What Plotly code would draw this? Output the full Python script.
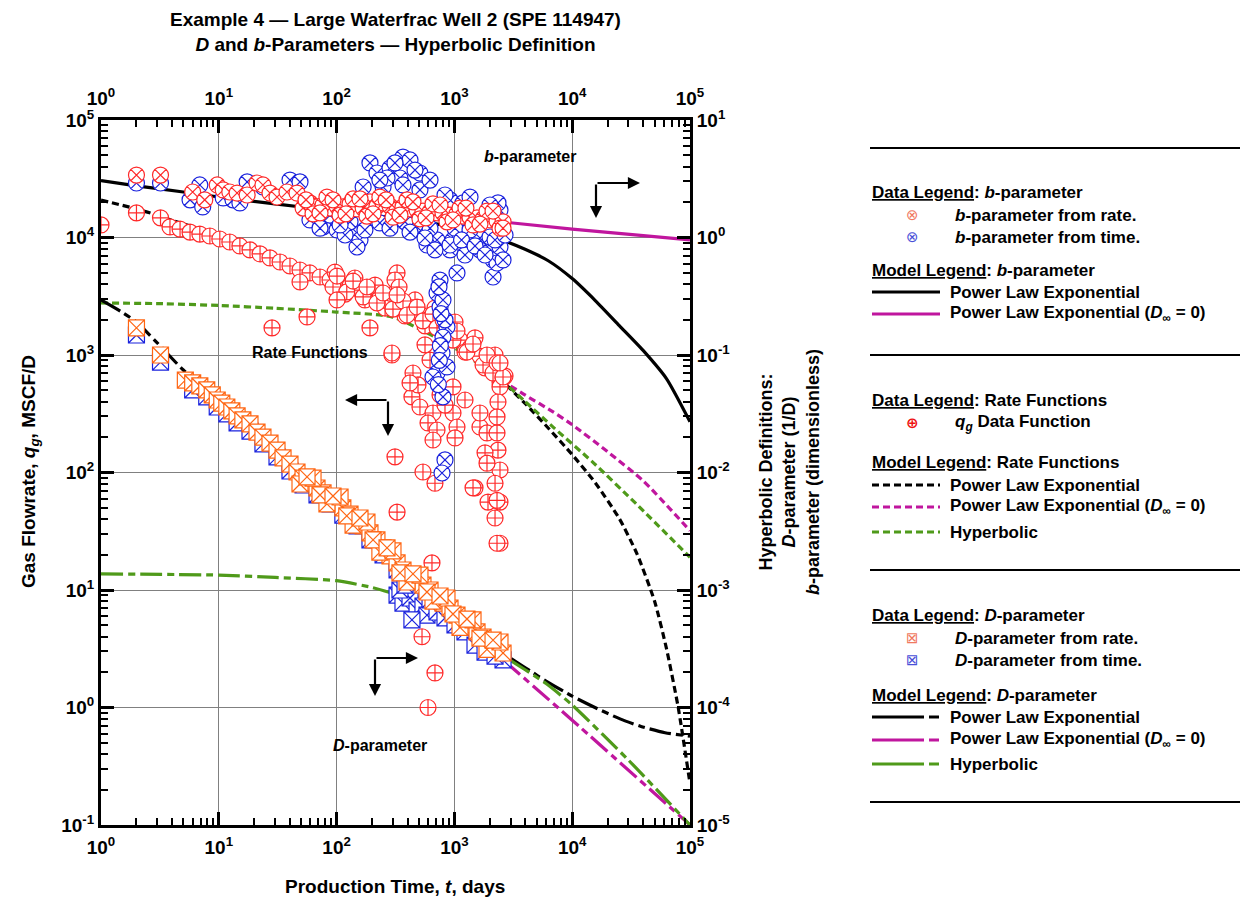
import plotly.graph_objects as go

FONT = "Liberation Sans, Arial, Helvetica, sans-serif"

# ---------------- data: rate functions (left axis, MSCF/D) ----------------
qg_t = [1.0, 2.0, 3.2, 3.85, 4.69, 5.7, 6.9, 8.4, 10.2, 12.4, 15.1, 18.4, 22.4, 27.2, 33.1, 40.2, 48.9, 59.4, 72.3, 87.9,
        107, 130, 158, 192, 233, 284, 345, 420, 510, 621, 755, 918, 1116, 1357, 1648, 2005, 2438, 2690,
        96.9, 143, 212, 313, 463, 684, 1012, 1496, 2213,
        118, 174, 258, 381, 563, 832, 1230, 1820, 2438,
        93.2, 100.8, 122, 138, 168, 181, 220, 248, 301, 366, 396, 482, 541, 658, 712, 800, 973, 1052, 1279, 1439, 1750, 1891, 2128, 2300, 2587,
        326, 313, 339, 326,
        28.3, 56.1, 48.9, 100.8, 192, 295,
        295, 445, 436, 510, 658, 597, 712, 658, 973, 1230, 973, 1052, 1012, 313, 541, 684, 326, 645,
        1648, 1891, 2300, 2344, 1820, 2438, 1891, 2213, 1496, 1928, 2438, 2213, 2438, 2438, 2344, 2300, 1648, 2587, 2438,
        531, 684, 597, 1439, 2300, 2300, 563, 621, 491, 755, 832, 420]
qg_q = [12800, 16200, 14700, 12300, 11800, 11100, 10700, 10300, 9710, 9160, 8470, 7840, 7250, 6700, 6190, 5720, 5290, 4990, 4610, 4350,
        4020, 3870, 3570, 3300, 3060, 2830, 2610, 2420, 2230, 2060, 1840, 1600, 1340, 1150, 980, 838, 716, 662,
        5080, 4520, 3940, 3370, 2940, 2510, 1910, 1400, 1000,
        3300, 2940, 2510, 2150, 1770, 1480, 1060, 775, 589,
        3790, 4700, 3440, 4260, 3120, 3790, 2770, 3370, 2460, 2880, 2190, 2560, 1950, 2230, 1700, 1990, 1340, 1600, 1060, 1240, 822, 1000, 703, 855, 637,
        4990, 4350, 3790, 3240,
        1700, 2110, 4180, 2940, 1700, 1000,
        1040, 703, 440, 361, 321, 264, 230, 189, 535, 414, 321, 244, 197, 136, 101, 81, 46, 17,
        244, 217, 217, 155, 147, 105, 120, 81, 74, 56, 56, 41, 25, 535, 398, 297, 321, 650, 855,
        4.0, 1.97, 1.0, 74, 58, 25, 1220, 906, 556, 457, 375, 578]

# rate models
qple_t = [1, 2, 3, 4, 10, 30, 100, 300, 1000, 2500, 4000, 6310, 10000, 15850, 25120, 35480, 50120, 63100, 79430, 100000]
qple_q = [20800, 17500, 15500, 14000, 10500, 6800, 4200, 2800, 1400, 612, 385, 237, 142, 80.7, 40.5, 20.3, 7.98, 3.18, 1.0, 0.225]
qple0_t = [2500, 4000, 6500, 10000, 20000, 40000, 100000]
qple0_q = [612, 455, 340, 255, 150, 85, 32]
qhyp_t = [1, 3, 10, 30, 100, 300, 1000, 2500, 4000, 7000, 15000, 35000, 100000]
qhyp_q = [2770, 2740, 2640, 2500, 2320, 2100, 1150, 612, 400, 240, 122, 54, 19]

# ---------------- data: b-parameter (right axis) ----------------
br_t = [2.0, 3.2, 6.0, 7.6, 9.7, 10.9, 12.4, 14.3, 17.4, 21.1, 23.7, 27.2, 31.2, 37.9, 46.1, 51.9, 59.4, 68.2, 76.7, 87.9,
        100.8, 113, 130, 149, 168, 192, 220, 248, 284, 326, 366, 420, 482, 541, 621, 712, 800, 918, 1052, 1183,
        1357, 1556, 1750, 2005, 2300, 2587,
        63.1, 82.8, 107, 138, 181, 233, 301, 396, 510, 658, 865, 1116, 1439, 1891, 2438,
        55.0, 72.3, 93.2, 120, 158, 204, 263, 345, 445, 574, 755, 973, 1253, 1648, 2128, 2587]
br_v = [3.40, 3.40, 2.44, 2.09, 2.80, 2.54, 2.44, 2.39, 2.30, 2.91, 2.80, 2.39, 2.21, 2.44, 2.39, 1.78, 1.97, 1.82, 1.89, 1.78,
        1.85, 1.82, 1.93, 1.75, 1.78, 2.01, 1.85, 1.97, 1.85, 1.71, 1.82, 1.75, 1.71, 1.68, 1.65, 1.62, 1.62, 1.55, 1.59, 1.52,
        1.49, 1.47, 1.44, 1.41, 1.38, 1.36,
        1.59, 2.21, 1.55, 2.13, 1.52, 2.21, 1.49, 2.09, 1.44, 1.93, 1.36, 1.78, 1.28, 1.68, 1.20,
        2.09, 1.62, 2.09, 1.59, 2.13, 1.59, 2.09, 1.55, 2.01, 1.47, 1.89, 1.41, 1.78, 1.30, 1.68, 1.20]
bt_t = [2.0, 3.2, 5.7, 6.9, 7.3, 10.9, 13.2, 15.1, 17.4, 23.7, 40.2, 48.9, 59.4, 76.7, 100.8, 149, 158, 149, 233, 345,
        192, 220, 284, 366, 345, 248, 168, 268, 420, 510, 366, 510, 918, 1183, 2300, 2438, 541, 712, 973, 1357,
        1891, 2128, 2128, 1052, 755, 712, 755, 865, 800, 832, 800, 785, 712, 800, 658, 865, 832, 785, 2344, 2300,
        2438, 2300, 2587, 621, 463, 381, 1116, 1648, 87.9, 130, 118, 585, 918, 1230, 1648, 2005, 1012, 1357,
        72.3, 107, 174, 284, 420, 563, 684, 918, 1150, 1496, 1820, 2213, 2690,
        313, 463, 233, 621, 832, 1357, 2005,
        740, 770, 760, 745, 730]
bt_v = [2.91, 2.91, 2.09, 2.80, 1.82, 2.17, 2.09, 1.97, 2.97, 2.69, 3.08, 2.97, 1.41, 1.23, 1.16, 1.09, 0.953, 0.830, 1.33, 1.49,
        4.31, 3.54, 3.90, 4.84, 3.21, 2.69, 2.69, 3.21, 4.57, 3.54, 2.80, 2.54, 2.09, 1.97, 1.89, 1.71, 1.16, 0.953, 0.953, 0.898,
        0.830, 0.644, 0.461, 0.499, 0.434, 0.337, 0.256, 0.173, 0.294, 0.199, 0.142, 0.104, 0.0703, 0.0440, 0.0650, 0.0791, 0.0128, 0.0099, 1.97, 1.41,
        0.830, 0.607, 0.644, 1.20, 1.28, 1.36, 1.05, 0.99, 1.55, 1.36, 1.05, 0.863, 0.784, 0.710, 0.784, 1.01, 1.20, 1.16,
        1.20, 1.28, 1.16, 1.20, 1.11, 0.99, 0.784, 0.863, 0.953, 0.848, 0.710, 0.953, 1.05,
        4.31, 3.75, 3.08, 3.08, 2.30, 2.21, 1.89,
        0.38, 0.225, 0.12, 0.09, 0.056]
bple_t = [1, 2, 5, 10, 30, 100, 300, 1000, 2512, 3981, 6310, 10000, 15850, 25120, 39810, 63100, 100000]
bple_v = [3.05, 2.75, 2.44, 2.21, 1.93, 1.68, 1.47, 1.23, 0.955, 0.794, 0.631, 0.447, 0.288, 0.178, 0.110, 0.063, 0.027]
bple0_t = [2500, 10000, 100000]
bple0_v = [1.36, 1.18, 0.955]

# ---------------- data: D-parameter (right axis, 1/D) ----------------
dr_t = [2.0, 3.2, 5.2, 6.0, 6.9, 7.9, 8.8, 9.7, 10.6, 11.7, 12.9, 14.3, 16.0, 18.4, 21.1, 23.7, 27.2, 31.2, 35.1, 40.2,
        46.1, 51.9, 59.4, 68.2, 76.7, 87.9, 100.8, 113, 130, 149, 168, 192, 220, 248, 284, 326, 366, 420, 482, 541,
        621, 712, 800, 918, 1052, 1183, 1357, 1556, 1750, 2005, 2300, 2587,
        48.9, 63.1, 82.8, 107, 138, 181, 233, 301, 396, 510, 658, 865, 1116, 1439, 1891, 2438,
        56.1, 72.3, 93.2, 122, 158, 204, 268, 345, 445, 585, 755, 973, 1279, 1648, 2128]
dr_v = [0.170, 0.100, 0.0612, 0.0578, 0.0545, 0.0504, 0.0457, 0.0414, 0.0390, 0.0361, 0.0334, 0.0303, 0.0280, 0.0259, 0.0221, 0.0200, 0.0178, 0.0155, 0.0133, 0.0118,
        0.0101, 0.00897, 0.00814, 0.00738, 0.00670, 0.00619, 0.00561, 0.00499, 0.00443, 0.00402, 0.00351, 0.00306, 0.00267, 0.00228, 0.00195, 0.00170, 0.00148, 0.00132, 0.00122, 0.00110,
        0.00100, 0.000871, 0.000774, 0.000703, 0.000612, 0.000556, 0.000504, 0.000440, 0.000398, 0.000361, 0.000321, 0.000291,
        0.00798, 0.00897, 0.00540, 0.00619, 0.00357, 0.00379, 0.00210, 0.00215, 0.00117, 0.00134, 0.000805, 0.000855, 0.000480, 0.000556, 0.000312, 0.000361,
        0.00917, 0.00644, 0.00631, 0.00427, 0.00410, 0.00267, 0.00228, 0.00140, 0.00137, 0.000962, 0.000889, 0.000625, 0.000566, 0.000390, 0.000375]
dt_t = [2.0, 3.2, 6.0, 7.9, 9.7, 11.7, 14.3, 18.4, 23.7, 31.2, 40.2, 51.9, 68.2, 87.9, 113, 149, 192, 248, 326, 420,
        541, 712, 918, 1183, 1556, 2005, 2587,
        326, 366, 420, 482, 541, 585, 345, 436, 712, 832, 1012, 1230, 1496, 1820, 2213, 381, 621]
dt_v = [0.148, 0.0871, 0.0504, 0.0440, 0.0361, 0.0315, 0.0264, 0.0225, 0.0175, 0.0136, 0.0103, 0.00783, 0.00644, 0.00540, 0.00434, 0.00351, 0.00267, 0.00199, 0.00148, 0.00115,
        0.000962, 0.000760, 0.000612, 0.000480, 0.000383, 0.000312, 0.000254,
        0.000906, 0.000774, 0.000855, 0.000676, 0.000731, 0.000612, 0.00100, 0.000556, 0.000650, 0.000578, 0.000504, 0.000440, 0.000340, 0.000296, 0.000274, 0.00110, 0.000822]
dple_t = [1, 1.5, 2, 3, 5, 10, 30, 100, 300, 1000, 2600, 4400, 6000, 10000, 15600, 25500, 38400, 61400, 100000]
dple_v = [0.294, 0.232, 0.191, 0.127, 0.0745, 0.0414, 0.016, 0.0056, 0.0018, 0.00064, 0.00029, 0.000205, 0.000168, 0.000125, 0.000100, 0.0000800, 0.0000690, 0.0000610, 0.0000570]
dple0_t = [2600, 10000, 100000]
dple0_v = [0.000254, 0.0000780, 0.0000100]
dhyp_t = [1, 10, 30, 100, 200, 300, 1000, 2600, 6000, 10000, 30000, 100000]
dhyp_v = [0.00137, 0.00134, 0.00128, 0.00120, 0.00105, 0.00093, 0.00050, 0.000275, 0.000160, 0.000105, 0.0000357, 0.0000100]

# axis labels
x_tickvals = [1, 10, 100, 1000, 10000, 100000]
x_ticktext = ["10<sup>0</sup>", "10<sup>1</sup>", "10<sup>2</sup>", "10<sup>3</sup>", "10<sup>4</sup>", "10<sup>5</sup>"]
y_tickvals = [0.1, 1, 10, 100, 1000, 10000, 100000]
y_ticktext = ["10<sup>-1</sup>", "10<sup>0</sup>", "10<sup>1</sup>", "10<sup>2</sup>", "10<sup>3</sup>", "10<sup>4</sup>", "10<sup>5</sup>"]
y2_tickvals = [1e-5, 1e-4, 1e-3, 1e-2, 1e-1, 1, 10]
y2_ticktext = ["10<sup>-5</sup>", "10<sup>-4</sup>", "10<sup>-3</sup>", "10<sup>-2</sup>", "10<sup>-1</sup>", "10<sup>0</sup>", "10<sup>1</sup>"]

# ---------------- styling ----------------
RED = "#ff2a2a"
ORANGE = "#ff6512"
BLUE = "#1a22dd"
MAG = "#c0169e"
GREEN = "#4f9a1a"
DASH = "7px,4px"
DASHDOT = "22px,5px,7px,5px"

# reference pixel geometry of the plotting area (page has an 8px body margin)
PL, PR, PT, PB = 101, 690, 120, 825
OFF = 8


def XP(x):
    return (x - PL) / (PR - PL)


def YP(y):
    return (PB - y) / (PB - PT)


fig = go.Figure()


def add_line(x, y, color, dash, yaxis="y", width=3.2):
    fig.add_trace(go.Scatter(x=x, y=y, mode="lines", yaxis=yaxis, xaxis="x",
                             line=dict(color=color, width=width, dash=dash, shape="spline", smoothing=0.6),
                             hoverinfo="skip", showlegend=False))


def add_markers(x, y, symbol, color, yaxis="y", size=16, lw=1.2):
    fig.add_trace(go.Scatter(x=x, y=y, mode="markers", yaxis=yaxis, xaxis="x",
                             marker=dict(symbol=symbol, size=size, color="white",
                                         line=dict(color=color, width=lw)),
                             hoverinfo="x+y", showlegend=False))


# left-axis (rate) traces
add_line(qple_t, qple_q, "black", DASH)
add_line(qple0_t, qple0_q, MAG, DASH)
add_line(qhyp_t, qhyp_q, GREEN, DASH)
add_markers(qg_t, qg_q, "circle-cross", RED)
# invisible anchor so the top axis is drawn
fig.add_trace(go.Scatter(x=qg_t[:1], y=qg_q[:1], xaxis="x2", yaxis="y", mode="markers",
                         marker=dict(opacity=0), hoverinfo="skip", showlegend=False))

# right-axis traces: D-parameter
add_line(dple_t, dple_v, "black", DASHDOT, yaxis="y2")
add_line(dple0_t, dple0_v, MAG, DASHDOT, yaxis="y2")
add_line(dhyp_t, dhyp_v, GREEN, DASHDOT, yaxis="y2")
add_markers(dt_t, dt_v, "square-x", BLUE, yaxis="y2", size=16)
add_markers(dr_t, dr_v, "square-x", ORANGE, yaxis="y2", size=16)
# b-parameter
add_line(bple_t, bple_v, "black", "solid", yaxis="y2")
add_line(bple0_t, bple0_v, MAG, "solid", yaxis="y2")
add_markers(bt_t, bt_v, "circle-x", BLUE, yaxis="y2")
add_markers(br_t, br_v, "circle-x", RED, yaxis="y2")

minor_x = [m * 10 ** e for e in range(0, 5) for m in range(2, 10)]
minor_y = [m * 10.0 ** e for e in range(-1, 5) for m in range(2, 10)]
minor_y2 = [m * 10.0 ** e for e in range(-5, 1) for m in range(2, 10)]

tickfont = dict(family=FONT, size=19, color="black", weight="bold")
common = dict(type="log", showline=True, linewidth=3, linecolor="black", ticks="inside",
              ticklen=13, tickwidth=2.5, tickcolor="black", tickfont=tickfont, zeroline=False)
minor_style = dict(ticks="inside", ticklen=7, tickwidth=2, tickcolor="black", showgrid=False)

fig.update_layout(
    width=1249, height=905,
    margin=dict(l=PL - OFF, r=1249 - (PR - PL) - (PL - OFF), t=PT - OFF, b=905 - (PB - PT) - (PT - OFF)),
    paper_bgcolor="white", plot_bgcolor="white",
    showlegend=False,
    xaxis=dict(range=[0, 5], tickmode="array", tickvals=x_tickvals, ticktext=x_ticktext,
               showgrid=True, gridcolor="#808080", gridwidth=1, ticklabelstandoff=3,
               minor=dict(tickmode="array", tickvals=minor_x, **minor_style),
               **common),
    xaxis2=dict(range=[0, 5], overlaying="x", side="top", anchor="y", tickmode="array", tickvals=x_tickvals,
                ticktext=x_ticktext, showgrid=False, ticklabelstandoff=4,
                minor=dict(tickmode="array", tickvals=minor_x, **minor_style),
                **common),
    yaxis=dict(range=[-1, 5], tickmode="array", tickvals=y_tickvals, ticktext=y_ticktext,
               showgrid=True, gridcolor="#808080", gridwidth=1,
               minor=dict(tickmode="array", tickvals=minor_y, **minor_style),
               **common),
    yaxis2=dict(range=[-5, 1], overlaying="y", side="right", anchor="x", tickmode="array", tickvals=y2_tickvals,
                ticktext=y2_ticktext, showgrid=False,
                minor=dict(tickmode="array", tickvals=minor_y2, **minor_style),
                **common),
)

ann = []


def text(x, y, s, size=17, xanchor="center", color="black", angle=0, family=FONT):
    ann.append(dict(x=XP(x), y=YP(y), xref="paper", yref="paper", text=s, showarrow=False,
                    xanchor=xanchor, yanchor="middle", textangle=angle,
                    font=dict(family=family, size=size, color=color)))


def arrow(x0, y0, x1, y1):
    ann.append(dict(x=XP(x1), y=YP(y1), xref="paper", yref="paper", text="", showarrow=True,
                    ax=x0 - x1, ay=y0 - y1, axref="pixel", ayref="pixel",
                    arrowhead=2, arrowsize=1.1, arrowwidth=2.2, arrowcolor="black", standoff=0, startstandoff=0))


# titles
text(395, 32, "<b>Example 4 — Large Waterfrac Well 2 (SPE 114947)<br><i>D</i> and <i>b</i>-Parameters — Hyperbolic Definition</b>", size=19)
text(395, 886, "<b>Production Time, <i>t</i>, days</b>", size=19)
text(30, 472, "<b>Gas Flowrate, <i>q<sub>g</sub></i>, MSCF/D</b>", size=19, angle=-90)
text(789, 472, "<b>Hyperbolic Definitions:<br><i>D</i>-parameter (1/D)<br><i>b</i>-parameter (dimensionless)</b>", size=18, angle=-90)

# in-plot labels and arrows
text(530, 157, "<b><i>b</i>-parameter</b>", size=16)
arrow(596, 183, 640, 183)
arrow(596, 183, 596, 218)
text(310, 352, "<b>Rate Functions</b>", size=16)
arrow(388, 400, 345, 400)
arrow(388, 400, 388, 436)
text(380, 745, "<b><i>D</i>-parameter</b>", size=16)
arrow(375, 658, 418, 658)
arrow(375, 658, 375, 696)

# legend panel
shapes = []
for yy in [148, 355, 570, 802]:
    shapes.append(dict(type="line", xref="paper", yref="paper", x0=XP(870), x1=XP(1240), y0=YP(yy), y1=YP(yy),
                       line=dict(color="black", width=2)))


def sample(y, color, dash):
    shapes.append(dict(type="line", xref="paper", yref="paper", x0=XP(872), x1=XP(940), y0=YP(y), y1=YP(y),
                       line=dict(color=color, width=3, dash=dash)))


LDASHDOT = "52px,5px,10px,60px"
DINF = "(<i>D</i><sub>∞</sub> = 0)"

text(870, 192, "<b><u>Data Legend</u>: <i>b</i>-parameter</b>", xanchor="left")
text(912, 215, "⊗", size=15, color="#f0795f", family="DejaVu Sans")
text(953, 215, "<b><i>b</i>-parameter from rate.</b>", xanchor="left")
text(912, 237, "⊗", size=15, color="#4a50d8", family="DejaVu Sans")
text(953, 237, "<b><i>b</i>-parameter from time.</b>", xanchor="left")
text(870, 270, "<b><u>Model Legend</u>: <i>b</i>-parameter</b>", xanchor="left")
sample(292, "black", "solid")
text(948, 292, "<b>Power Law Exponential</b>", xanchor="left")
sample(314, MAG, "solid")
text(948, 314, "<b>Power Law Exponential " + DINF + "</b>", xanchor="left")

text(870, 400, "<b><u>Data Legend</u>: Rate Functions</b>", xanchor="left")
text(912, 423, "<b>⊕</b>", size=15, color="#ee1111", family="DejaVu Sans")
text(953, 423, "<b><i>q<sub>g</sub></i> Data Function</b>", xanchor="left")
text(870, 462, "<b><u>Model Legend</u>: Rate Functions</b>", xanchor="left")
sample(485, "black", DASH)
text(948, 485, "<b>Power Law Exponential</b>", xanchor="left")
sample(507, MAG, DASH)
text(948, 507, "<b>Power Law Exponential " + DINF + "</b>", xanchor="left")
sample(532, GREEN, DASH)
text(948, 532, "<b>Hyperbolic</b>", xanchor="left")

text(870, 615, "<b><u>Data Legend</u>: <i>D</i>-parameter</b>", xanchor="left")
text(912, 638, "⊠", size=15, color="#f0795f", family="DejaVu Sans")
text(953, 638, "<b><i>D</i>-parameter from rate.</b>", xanchor="left")
text(912, 660, "⊠", size=15, color="#4a50d8", family="DejaVu Sans")
text(953, 660, "<b><i>D</i>-parameter from time.</b>", xanchor="left")
text(870, 695, "<b><u>Model Legend</u>: <i>D</i>-parameter</b>", xanchor="left")
sample(717, "black", LDASHDOT)
text(948, 717, "<b>Power Law Exponential</b>", xanchor="left")
sample(740, MAG, LDASHDOT)
text(948, 740, "<b>Power Law Exponential " + DINF + "</b>", xanchor="left")
sample(764, GREEN, LDASHDOT)
text(948, 764, "<b>Hyperbolic</b>", xanchor="left")

fig.update_layout(annotations=ann, shapes=shapes)
fig.write_html("out.html")
